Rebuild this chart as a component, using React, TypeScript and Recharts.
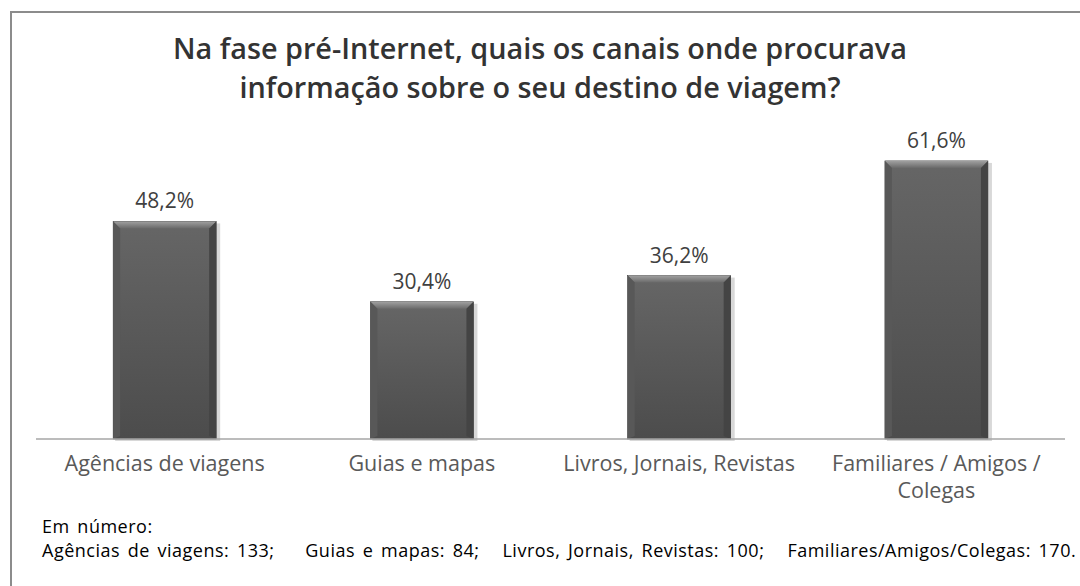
import React from "react";
import { BarChart, Bar, XAxis, YAxis, LabelList } from "recharts";

const categories = [
  "Agências de viagens",
  "Guias e mapas",
  "Livros, Jornais, Revistas",
  "Familiares / Amigos / Colegas",
];
const percentages = [48.2, 30.4, 36.2, 61.6];
const tickLines: string[][] = [
  ["Agências de viagens"],
  ["Guias e mapas"],
  ["Livros, Jornais, Revistas"],
  ["Familiares / Amigos /", "Colegas"],
];
const titleLines = [
  "Na fase pré-Internet, quais os canais onde procurava",
  "informação sobre o seu destino de viagem?",
];
const footerTitle = "Em número:";
const footerText =
  "Agências de viagens: 133;    Guias e mapas: 84;   Livros, Jornais, Revistas: 100;   Familiares/Amigos/Colegas: 170.";

const data = categories.map((c, i) => ({ name: c, value: percentages[i], idx: i }));

const FONT = "'Open Sans', sans-serif";

const BevelBar = (props: any) => {
  const { x, y, width, height } = props;
  if (!height || height <= 0) return null;
  const b = 7;
  return (
    <g>
      <rect x={x + 2} y={y + 2} width={width + 2} height={height} fill="#d8d8d8" />
      <rect x={x} y={y} width={width} height={height} fill="url(#barMain)" stroke="#3a3a3a" strokeWidth={0.6} />
      <polygon points={`${x},${y} ${x + width},${y} ${x + width - b},${y + b} ${x + b},${y + b}`} fill="url(#barTop)" />
      <polygon points={`${x},${y} ${x + b},${y + b} ${x + b},${y + height - 3} ${x},${y + height}`} fill="#585858" />
      <polygon points={`${x + width},${y} ${x + width - b},${y + b} ${x + width - b},${y + height - 3} ${x + width},${y + height}`} fill="#444" />
    </g>
  );
};

const CustomTick = (props: any) => {
  const { x, y, index } = props;
  const lines = tickLines[index] || [];
  return (
    <g>
      {lines.map((l, i) => (
        <text key={i} x={x} y={y + 24 + i * 27} textAnchor="middle" fill="#595959" fontSize={21.5} fontFamily={FONT}>
          {l}
        </text>
      ))}
    </g>
  );
};

export default function App() {
  return (
    <div style={{ position: "absolute", left: 0, top: 0, width: 1080, height: 586, background: "#fff", overflow: "hidden" }}>
      <div style={{ position: "absolute", left: 10, top: 11, width: 1100, height: 600, border: "2px solid #8c8c8c", boxSizing: "border-box" }} />
      <div style={{ position: "absolute", left: 0, top: 28, width: 1080, textAlign: "center", fontFamily: FONT, fontWeight: 600, fontSize: 28.8, color: "#333", lineHeight: "39px", whiteSpace: "nowrap" }}>
        {titleLines.map((t, i) => (
          <div key={i}>{t}</div>
        ))}
      </div>
      <div style={{ position: "absolute", left: 0, top: 0 }}>
        <BarChart width={1080} height={586} data={data} margin={{ top: 123, right: 15, left: 36, bottom: 117 }} barCategoryGap="30%">
          <defs>
            <linearGradient id="barMain" x1="0" y1="0" x2="0" y2="1">
              <stop offset="0%" stopColor="#666" />
              <stop offset="100%" stopColor="#4c4c4c" />
            </linearGradient>
            <linearGradient id="barTop" x1="0" y1="0" x2="0" y2="1">
              <stop offset="0%" stopColor="#a0a0a0" />
              <stop offset="100%" stopColor="#6a6a6a" />
            </linearGradient>
          </defs>
          <YAxis hide domain={[0, 70]} />
          <XAxis dataKey="name" interval={0} tickLine={false} axisLine={{ stroke: "#a6a6a6", strokeWidth: 1.5 }} tick={<CustomTick />} />
          <Bar dataKey="value" shape={<BevelBar />} isAnimationActive={false}>
            <LabelList
              dataKey="value"
              position="top"
              offset={13}
              formatter={(v: any) => `${Number(v).toFixed(1).replace(".", ",")}%`}
              style={{ fill: "#404040", fontSize: 21, fontFamily: FONT }}
            />
          </Bar>
        </BarChart>
      </div>
      <div style={{ position: "absolute", left: 42, top: 514, fontFamily: FONT, fontSize: 18, color: "#000", lineHeight: "24px", whiteSpace: "pre", letterSpacing: 0.5, wordSpacing: 2.5 }}>
        <div>{footerTitle}</div>
        <div>{footerText}</div>
      </div>
    </div>
  );
}
